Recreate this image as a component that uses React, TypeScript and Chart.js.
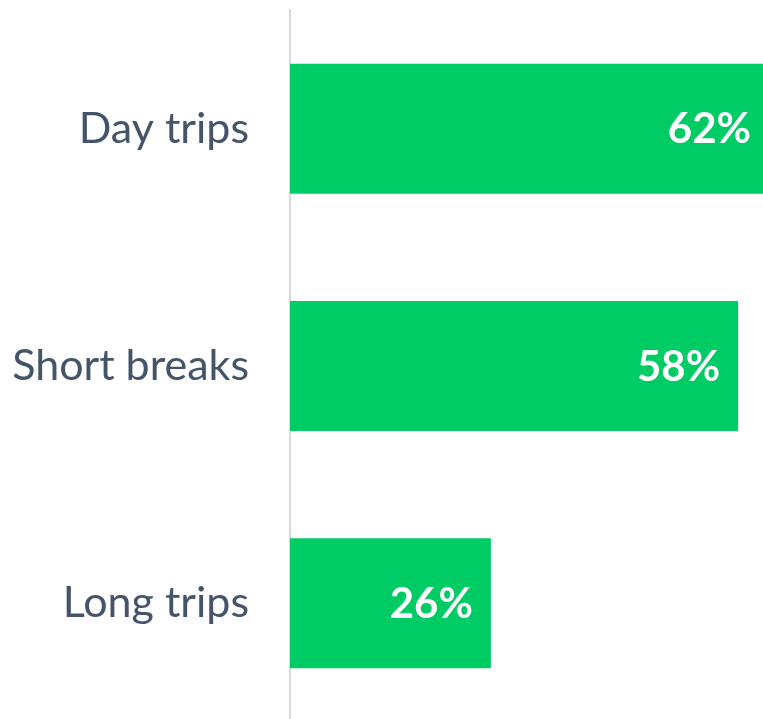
import React, { useEffect, useRef } from "react";
import { Chart, registerables } from "chart.js";

Chart.register(...registerables);

const categories = ["Day trips", "Short breaks", "Long trips"];
const shares = [62, 58, 26];
const axisMax = 62;

const barLabelPlugin = {
  id: "barLabels",
  afterDatasetsDraw(chart: any) {
    const ctx = chart.ctx;
    const meta = chart.getDatasetMeta(0);
    ctx.save();
    ctx.font = "bold 42px Lato";
    ctx.fillStyle = "#ffffff";
    ctx.textAlign = "right";
    ctx.textBaseline = "middle";
    meta.data.forEach((bar: any, i: number) => {
      ctx.fillText(shares[i] + "%", bar.x - 18, bar.y + 1);
    });
    ctx.restore();
  },
};

export default function App() {
  const ref = useRef<HTMLCanvasElement>(null);
  useEffect(() => {
    if (!ref.current) return;
    const chart = new Chart(ref.current, {
      type: "bar",
      data: {
        labels: categories,
        datasets: [
          {
            data: shares,
            backgroundColor: "#00cc66",
            borderWidth: 0,
            barPercentage: 0.548,
            categoryPercentage: 1,
          },
        ],
      },
      options: {
        indexAxis: "y",
        animation: false,
        responsive: false,
        maintainAspectRatio: false,
        layout: { padding: { top: 10, bottom: 8, right: 11, left: 0 } },
        plugins: { legend: { display: false }, tooltip: { enabled: false } },
        scales: {
          x: { display: false, min: 0, max: axisMax },
          y: {
            afterFit(scale: any) {
              scale.width = 290;
              scale.paddingTop = 0;
              scale.paddingBottom = 0;
            },
            grid: { display: false, drawTicks: false },
            border: { display: true, color: "#d9d9d9", width: 2 },
            ticks: {
              padding: 41,
              color: "#44546a",
              font: { family: "Lato", size: 43 },
            },
          },
        },
      },
      plugins: [barLabelPlugin],
    });
    return () => chart.destroy();
  }, []);
  return (
    <div style={{ position: "fixed", left: 0, top: 0, width: 780, height: 730, background: "#fff" }}>
      <canvas ref={ref} width={780} height={730} style={{ width: 780, height: 730, display: "block" }} />
    </div>
  );
}
